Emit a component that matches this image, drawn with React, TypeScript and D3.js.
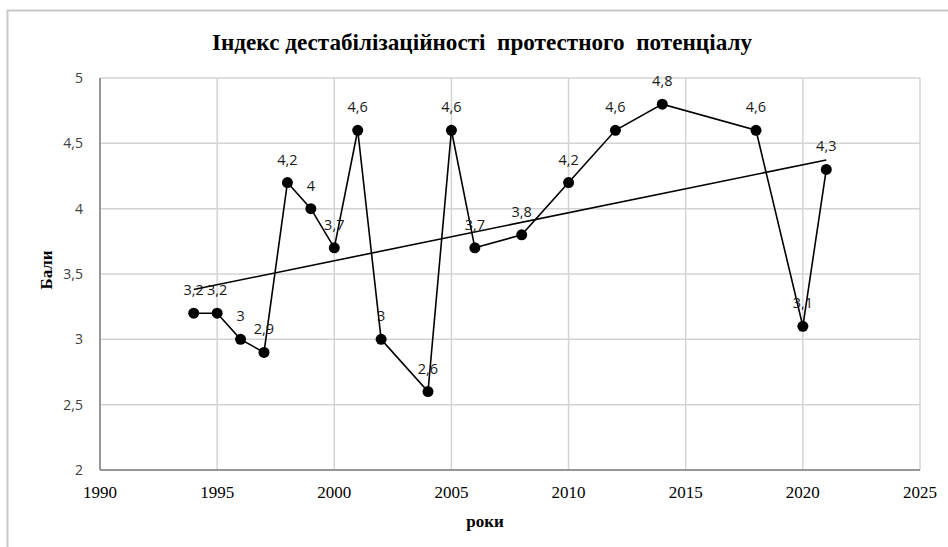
import React from "react";
import * as d3 from "d3";

const years = [1994, 1995, 1996, 1997, 1998, 1999, 2000, 2001, 2002, 2004, 2005, 2006, 2008, 2010, 2012, 2014, 2018, 2020, 2021];
const values = [3.2, 3.2, 3.0, 2.9, 4.2, 4.0, 3.7, 4.6, 3.0, 2.6, 4.6, 3.7, 3.8, 4.2, 4.6, 4.8, 4.6, 3.1, 4.3];
const xTicks = [1990, 1995, 2000, 2005, 2010, 2015, 2020, 2025];
const yTicks = [2, 2.5, 3, 3.5, 4, 4.5, 5];
const title = "Індекс дестабілізаційності  протестного  потенціалу";
const xTitle = "роки";
const yTitle = "Бали";

const W = 948, H = 547;
const M = { left: 100, right: 920, top: 78, bottom: 470 };
const SERIF = "'Liberation Serif', 'Times New Roman', serif";
const SANS = "'Open Sans', sans-serif";

const fmt = (v: number) => String(v).replace(".", ",");

export default function App() {
  const x = d3.scaleLinear().domain([1990, 2025]).range([M.left, M.right]);
  const y = d3.scaleLinear().domain([2, 5]).range([M.bottom, M.top]);
  const pts = years.map((yr, i) => [yr, values[i]] as [number, number]);
  const line = d3.line<[number, number]>().x(d => x(d[0])).y(d => y(d[1]));

  // linear trend (least squares)
  const mx = d3.mean(years)!;
  const my = d3.mean(values)!;
  const sxy = d3.sum(years.map((t, i) => (t - mx) * (values[i] - my)));
  const sxx = d3.sum(years.map(t => (t - mx) ** 2));
  const slope = sxy / sxx;
  const icpt = my - slope * mx;
  const x0 = years[0], x1 = years[years.length - 1];

  return (
    <svg width={W} height={H} style={{ position: "absolute", left: 0, top: 0, background: "#fff" }}>
      <rect x={0} y={0} width={W} height={H} fill="#fff" />
      <path d={`M7.5,${H}V10.5H${W}`} fill="none" stroke="#c8c8c8" strokeWidth={2} />
      <text x={482} y={50} textAnchor="middle" fontFamily={SERIF} fontWeight="bold" fontSize={23} fill="#000"
        textLength={540} lengthAdjust="spacingAndGlyphs" style={{ whiteSpace: "pre" }}>{title}</text>
      {yTicks.map(t => (
        <g key={"y" + t}>
          <line x1={M.left} x2={M.right} y1={y(t)} y2={y(t)} stroke="#d4d4d4" strokeWidth={1.5} />
          <text x={83} y={y(t) + 5} textAnchor="end" fontFamily={SANS} fontSize={14} fill="#404040">{fmt(t)}</text>
        </g>
      ))}
      {xTicks.map(t => (
        <g key={"x" + t}>
          <line x1={x(t)} x2={x(t)} y1={M.top} y2={M.bottom} stroke="#d4d4d4" strokeWidth={1.5} />
          <text x={x(t)} y={498} textAnchor="middle" fontFamily={SERIF} fontSize={17} fill="#000">{t}</text>
        </g>
      ))}
      <line x1={M.left} x2={M.left} y1={M.top} y2={M.bottom} stroke="#7f7f7f" strokeWidth={1.5} />
      <line x1={M.left} x2={M.right} y1={M.bottom} y2={M.bottom} stroke="#7f7f7f" strokeWidth={1.5} />
      <text x={485} y={527} textAnchor="middle" fontFamily={SERIF} fontWeight="bold" fontSize={17} fill="#000">{xTitle}</text>
      <text transform={`translate(52,270) rotate(-90)`} textAnchor="middle" fontFamily={SERIF} fontWeight="bold" fontSize={17} fill="#000">{yTitle}</text>
      <path d={line(pts)!} fill="none" stroke="#000" strokeWidth={1.6} />
      <line x1={x(x0)} y1={y(icpt + slope * x0)} x2={x(x1)} y2={y(icpt + slope * x1)} stroke="#000" strokeWidth={1.6} />
      {pts.map((d, i) => (
        <circle key={"c" + i} cx={x(d[0])} cy={y(d[1])} r={5.5} fill="#000" />
      ))}
      {pts.map((d, i) => (
        <text key={"l" + i} x={x(d[0])} y={y(d[1]) - 18} textAnchor="middle" fontFamily={SANS} fontSize={14.5} fill="#1a1a1a">{fmt(d[1])}</text>
      ))}
    </svg>
  );
}
